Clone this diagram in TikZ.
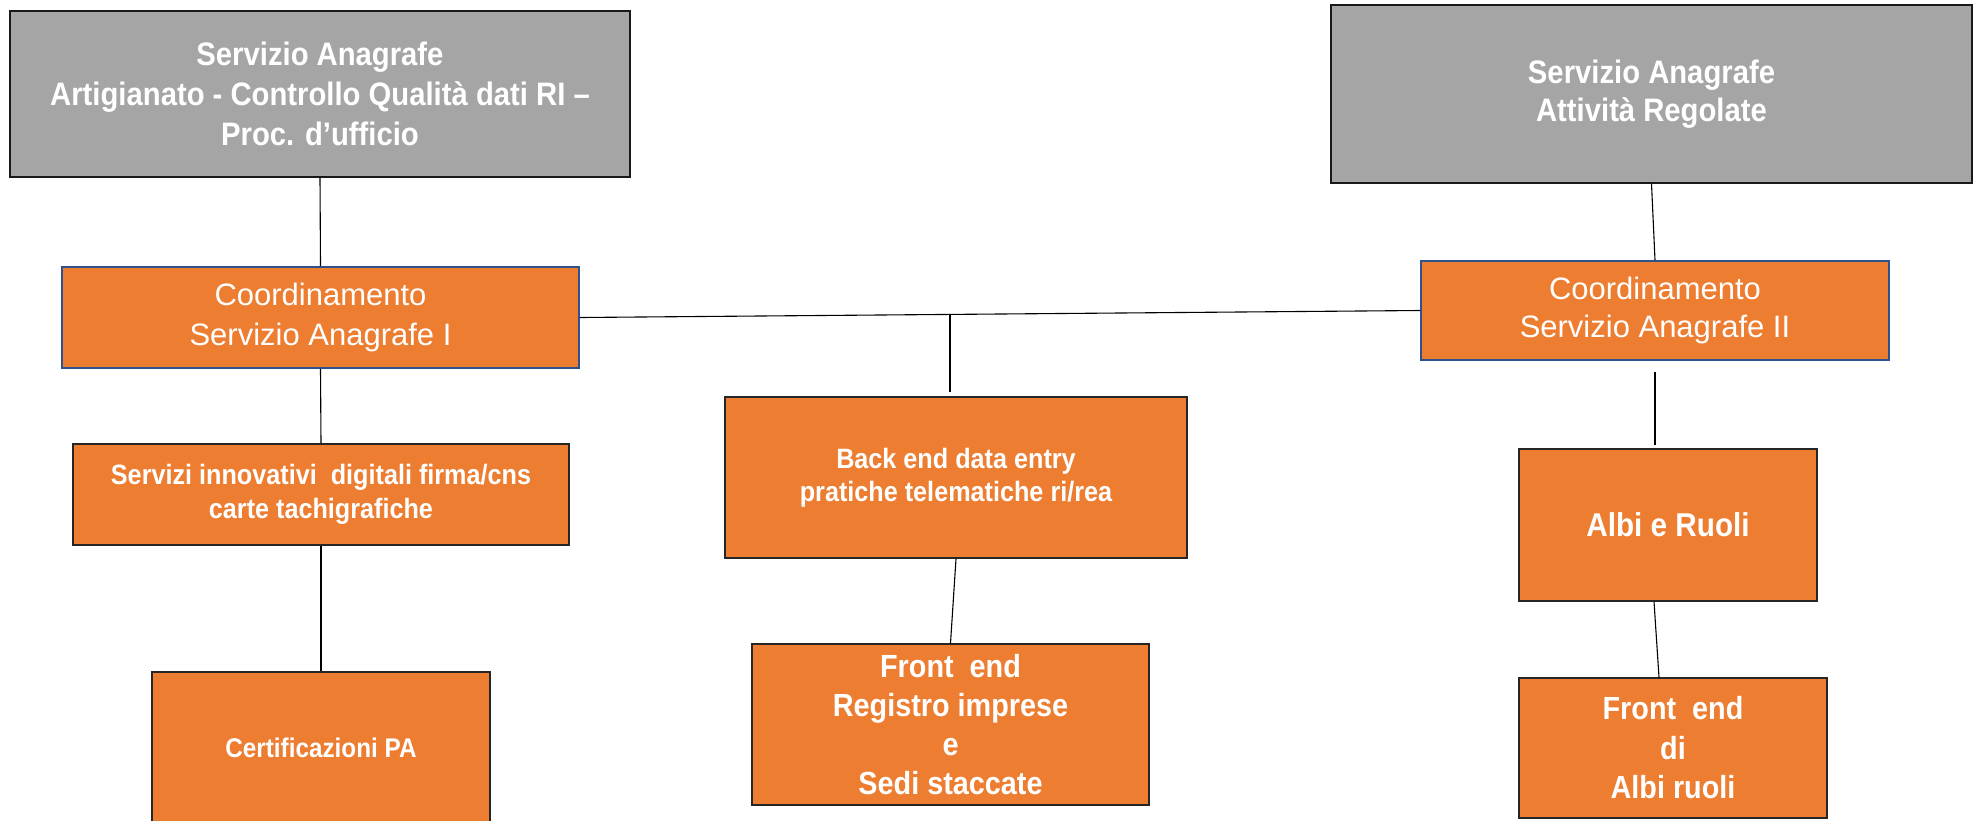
\documentclass[tikz,border=0pt]{standalone}
\usepackage{fontspec}
\setmainfont{Liberation Sans}
\newfontfamily\cndbf[FakeStretch=0.9]{Liberation Sans Bold}
\newfontfamily\reg{Liberation Sans}
\definecolor{orng}{HTML}{ED7D31}
\definecolor{gry}{HTML}{A5A5A5}
\definecolor{bblue}{HTML}{2F528F}
\begin{document}
\begin{tikzpicture}[x=1pt,y=-1pt,
  box/.style={rectangle, inner sep=0pt, text=white, align=center, line width=1.5pt},
  graybox/.style={box, fill=gry, draw=black!90},
  orbox/.style={box, fill=orng, draw=black!85},
  coordbox/.style={box, fill=orng, draw=bblue, line width=1.8pt},
  thin/.style={draw=black, line width=1.1pt},
  thick/.style={draw=black, line width=2.3pt}]
\useasboundingbox (0,0) rectangle (1975,820);
\clip (0,0) rectangle (1975,820);
\fill[white] (0,0) rectangle (1975,820);

\node[graybox, minimum width=620, minimum height=166,
  font=\cndbf\fontsize{32.5}{40}\selectfont] (g1) at (320,94)
  {Servizio Anagrafe\\Artigianato - Controllo Qualità dati RI –\\Proc. d’ufficio};
\node[graybox, minimum width=641, minimum height=178,
  font=\cndbf\fontsize{32.5}{38}\selectfont] (g2) at (1651.5,94)
  {Servizio Anagrafe\\Attività Regolate};

\node[coordbox, minimum width=517, minimum height=101,
  font=\reg\fontsize{31}{40}\selectfont] (c1) at (320.5,317.5)
  {Coordinamento\\Servizio Anagrafe I};
\node[coordbox, minimum width=468, minimum height=99,
  font=\reg\fontsize{31}{38}\selectfont] (c2) at (1655,310.5)
  {Coordinamento\\Servizio Anagrafe II};

\node[orbox, minimum width=496, minimum height=101,
  font=\cndbf\fontsize{28}{34}\selectfont] (s1) at (321,494.5)
  {Servizi innovativi \ digitali firma/cns\\carte tachigrafiche};
\node[orbox, minimum width=338, minimum height=152,
  font=\cndbf\fontsize{27}{32}\selectfont] (cert) at (321,748)
  {Certificazioni PA};

\node[orbox, minimum width=462, minimum height=161,
  font=\cndbf\fontsize{28}{33}\selectfont] (be) at (956,477.5)
  {Back end data entry\\pratiche telematiche ri/rea};
\node[orbox, minimum width=397, minimum height=161,
  font=\cndbf\fontsize{32}{39}\selectfont] (fe) at (950.5,724.5)
  {Front \ end\\Registro imprese\\e\\Sedi staccate};

\node[orbox, minimum width=298, minimum height=152,
  font=\cndbf\fontsize{33}{40}\selectfont] (albi) at (1668,525)
  {Albi e Ruoli};
\node[orbox, minimum width=308, minimum height=140,
  font=\cndbf\fontsize{32}{39.5}\selectfont] (fa) at (1673,748)
  {Front \ end\\di\\Albi ruoli};

% connectors
\draw[thin] (g1.south) -- (c1.north);
\draw[thin] (c1.east) -- (c2.west);
\coordinate (j) at (950,315);
\draw[thick, shorten >=4pt] (j) -- (be.north -| j);
\draw[thin] (g2.south) -- (c2.north);
\draw[thick, shorten <=11pt, shorten >=3pt] (c2.south) -- (c2.south |- albi.north);
\draw[thin] ([xshift=-14pt]albi.south) -- ([xshift=-14pt]fa.north);
\draw[thin] (c1.south) -- (s1.north);
\draw[thin] (s1.south) -- (cert.north);
\draw[thin] (be.south) -- (fe.north);
\end{tikzpicture}
\end{document}
